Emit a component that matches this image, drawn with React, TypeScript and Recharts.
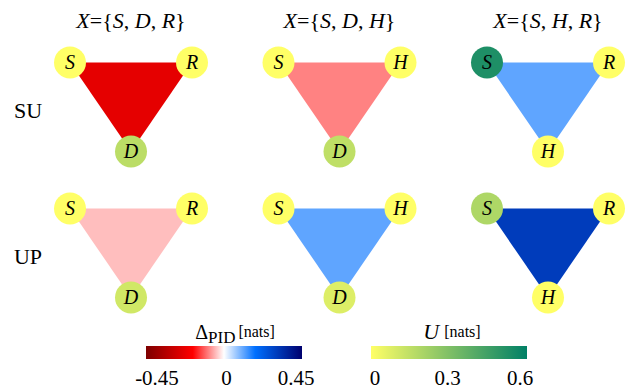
import React from 'react';
import { ScatterChart, Scatter, XAxis, YAxis, Customized } from 'recharts';

// ---------- data ----------
const panelTitleVars = [['S', 'D', 'R'], ['S', 'D', 'H'], ['S', 'H', 'R']];
const panelVertexVars = [['S', 'R', 'D'], ['S', 'H', 'D'], ['S', 'R', 'H']];
const rowLabels = ['SU', 'UP'];
const deltaSU = [-0.233, -0.088, 0.113];
const deltaUP = [-0.046, 0.113, 0.306];
const uSU = [[0, 0, 0.16], [0, 0, 0.15], [0.53, 0, 0]];
const uUP = [[0, 0, 0.11], [0, 0, 0.08], [0.19, 0, 0]];
const deltaTicks = [-0.45, 0, 0.45];
const uTicks = [0, 0.3, 0.6];
const deltaTickLabels = ['-0.45', '0', '0.45'];
const uTickLabels = ['0', '0.3', '0.6'];

// ---------- style / layout ----------
const W = 626;
const H = 389;
const FONT = "'Liberation Serif', 'Times New Roman', serif";
const fontStyle = { fontFamily: FONT };
const panelCx0 = 131;
const panelDx = 208.5;
const rowTop0 = 62.5;
const rowDy = 146;
const halfW = 61;
const triH = 89;
const nodeR = 16;

const deltaStops: [number, string][] = [
  [0, '#7d0000'],
  [0.3, '#ff0000'],
  [0.5, '#ffffff'],
  [0.7, '#0070ff'],
  [1, '#00006e'],
];
const uStops: [number, string][] = [
  [0, '#ffff66'],
  [1, '#008066'],
];

function hexToRgb(h: string) {
  return [parseInt(h.slice(1, 3), 16), parseInt(h.slice(3, 5), 16), parseInt(h.slice(5, 7), 16)];
}
function interp(stops: [number, string][], t: number) {
  t = Math.max(0, Math.min(1, t));
  for (let i = 0; i < stops.length - 1; i++) {
    const [t0, c0] = stops[i];
    const [t1, c1] = stops[i + 1];
    if (t >= t0 && t <= t1) {
      const f = (t - t0) / (t1 - t0);
      const a = hexToRgb(c0);
      const b = hexToRgb(c1);
      const c = a.map((v, k) => Math.round(v + (b[k] - v) * f));
      return `rgb(${c[0]},${c[1]},${c[2]})`;
    }
  }
  return stops[stops.length - 1][1];
}
const deltaColor = (v: number) => interp(deltaStops, (v + 0.45) / 0.9);
const uColor = (v: number) => interp(uStops, v / 0.6);

const rowDeltas = [deltaSU, deltaUP];
const rowUs = [uSU, uUP];

function vertexPos(row: number, panel: number, k: number) {
  const cx = panelCx0 + panel * panelDx;
  const top = rowTop0 + row * rowDy;
  if (k === 0) return { x: cx - halfW, y: top };
  if (k === 1) return { x: cx + halfW, y: top };
  return { x: cx, y: top + triH };
}

const triangles: { key: string; color: string; points: { x: number; y: number }[] }[] = [];
const nodes: { x: number; y: number; name: string; u: number }[] = [];
rowLabels.forEach((_, r) => {
  panelVertexVars.forEach((vars, p) => {
    triangles.push({
      key: `t-${r}-${p}`,
      color: deltaColor(rowDeltas[r][p]),
      points: [0, 1, 2].map((k) => vertexPos(r, p, k)),
    });
    vars.forEach((name, k) => {
      nodes.push({ ...vertexPos(r, p, k), name, u: rowUs[r][p][k] });
    });
  });
});

const NodeShape = (props: any) => {
  const { cx, cy, payload } = props;
  return (
    <g>
      <circle cx={cx} cy={cy} r={nodeR} fill={uColor(payload.u)} />
      <text x={cx} y={cy + 6.8} textAnchor="middle" fontStyle="italic" fontSize={20} style={fontStyle} fill="#000">
        {payload.name}
      </text>
    </g>
  );
};

const bars = [
  { id: 'gd', left: 146, stops: deltaStops, ticks: deltaTicks, labels: deltaTickLabels, min: -0.45, max: 0.45, labelRange: [157, 296] },
  { id: 'gu', left: 371, stops: uStops, ticks: uTicks, labels: uTickLabels, min: 0, max: 0.6, labelRange: [375, 520] },
];
const barW = 156;
const barTop = 346;
const barH = 13;

const Annotations = () => (
  <g fill="#000" style={fontStyle}>
    <defs>
      {bars.map((b) => (
        <linearGradient key={b.id} id={b.id} x1="0" y1="0" x2="1" y2="0">
          {b.stops.map(([t, c]) => (
            <stop key={t} offset={t} stopColor={c} />
          ))}
        </linearGradient>
      ))}
    </defs>
    {panelTitleVars.map((vars, p) => (
      <text key={p} x={panelCx0 + p * panelDx} y={28} textAnchor="middle" fontSize={22} style={fontStyle}>
        <tspan fontStyle="italic">X</tspan>
        <tspan>={'{'}</tspan>
        <tspan fontStyle="italic">{vars[0]}</tspan>
        <tspan>, </tspan>
        <tspan fontStyle="italic">{vars[1]}</tspan>
        <tspan>, </tspan>
        <tspan fontStyle="italic">{vars[2]}</tspan>
        <tspan>{'}'}</tspan>
      </text>
    ))}
    {rowLabels.map((l, r) => (
      <text key={l} x={28} y={rowTop0 + r * rowDy + 55.5} textAnchor="middle" fontSize={22} style={fontStyle}>
        {l}
      </text>
    ))}
    {bars.map((b) => (
      <g key={b.id}>
        <rect x={b.left} y={barTop} width={barW} height={barH} fill={`url(#${b.id})`} />
        {b.ticks.map((t, i) => (
          <text
            key={i}
            x={b.labelRange[0] + ((t - b.min) / (b.max - b.min)) * (b.labelRange[1] - b.labelRange[0])}
            y={385}
            textAnchor="middle"
            fontSize={21}
            style={fontStyle}
          >
            {b.labels[i]}
          </text>
        ))}
      </g>
    ))}
    <text x={235} y={339} textAnchor="middle" fontSize={20} style={fontStyle}>
      <tspan>Δ</tspan>
      <tspan fontSize={17} dy={4}>PID</tspan>
      <tspan fontSize={16} dy={-6} dx={3}>[nats]</tspan>
    </text>
    <text x={452} y={339} textAnchor="middle" fontSize={22} style={fontStyle}>
      <tspan fontStyle="italic">U</tspan>
      <tspan fontSize={16} dx={5} dy={-2}>[nats]</tspan>
    </text>
  </g>
);

export default function App() {
  return (
    <div style={{ position: 'absolute', left: 0, top: 0, width: W, height: H, background: '#fff' }}>
      <ScatterChart width={W} height={H} margin={{ top: 0, right: 0, bottom: 0, left: 0 }}>
        <XAxis type="number" dataKey="x" domain={[0, W]} hide />
        <YAxis type="number" dataKey="y" domain={[0, H]} reversed hide />
        {triangles.map((t) => (
          <Scatter
            key={t.key}
            data={t.points}
            line={{ fill: t.color, stroke: 'none' }}
            lineType="joint"
            shape={() => <g />}
            isAnimationActive={false}
          />
        ))}
        <Scatter data={nodes} shape={NodeShape} isAnimationActive={false} />
        <Customized component={Annotations} />
      </ScatterChart>
    </div>
  );
}
